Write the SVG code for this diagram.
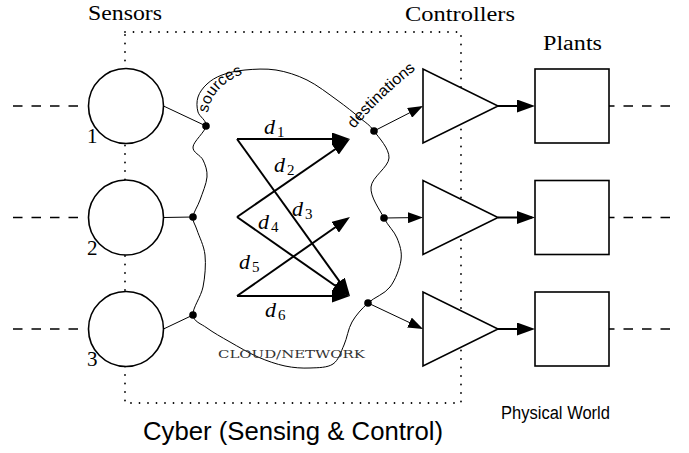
<svg xmlns="http://www.w3.org/2000/svg" width="689" height="453" viewBox="0 0 689 453">
<style>
.serif{font-family:"Liberation Serif","Times New Roman",serif;fill:#000}
.sans{font-family:"Liberation Sans",Arial,sans-serif;fill:#000}
.node{fill:#fff;stroke:#000;stroke-width:1.6}
.dash{stroke:#000;stroke-width:1.7;stroke-dasharray:9.5 9;fill:none}
.thin{stroke:#000;stroke-width:1;fill:none}
.thick{stroke:#000;stroke-width:2;fill:none}
.dot{fill:#000}
.math{font-family:"Liberation Serif","Times New Roman",serif;font-style:italic;font-size:22px}
.sub{font-family:"Liberation Serif","Times New Roman",serif;font-size:15px}
</style>
<defs>
<marker id="ahThin" markerUnits="userSpaceOnUse" viewBox="0 0 15 11" refX="13" refY="5.5" markerWidth="15" markerHeight="11" orient="auto"><path d="M0,0 L15,5.5 L0,11 Z" fill="#000"/></marker>
<marker id="ahThick" markerUnits="userSpaceOnUse" viewBox="0 0 18 13" refX="15" refY="6.5" markerWidth="18" markerHeight="13" orient="auto"><path d="M0,0 L18,6.5 L0,13 Z" fill="#000"/></marker>
</defs>

<g id="cyber-boundary">
<rect x="125" y="32" width="336" height="371" fill="none" stroke="#000" stroke-width="1.8" stroke-dasharray="0 8.5" stroke-linecap="round"/>
</g>

<g id="connectors">
<line class="dash" x1="13" y1="106" x2="80" y2="106"/>
<line class="dash" x1="13" y1="217.5" x2="80" y2="217.5"/>
<line class="dash" x1="13" y1="329" x2="80" y2="329"/>
<line class="dash" x1="605" y1="106" x2="672" y2="106"/>
<line class="dash" x1="605" y1="217.5" x2="672" y2="217.5"/>
<line class="dash" x1="605" y1="329" x2="672" y2="329"/>
<line class="thin" x1="163.5" y1="106" x2="206" y2="126"/>
<line class="thin" x1="163.5" y1="217.5" x2="193" y2="217"/>
<line class="thin" x1="163.5" y1="329" x2="193" y2="315"/>
<line class="thin" x1="374" y1="131" x2="421.2" y2="106.9" marker-end="url(#ahThin)"/>
<line class="thin" x1="384" y1="218" x2="421" y2="217.5" marker-end="url(#ahThin)"/>
<line class="thin" x1="368" y1="303" x2="421.2" y2="328.1" marker-end="url(#ahThin)"/>
<line class="thick" x1="498" y1="106" x2="532" y2="106" marker-end="url(#ahThick)"/>
<line class="thick" x1="498" y1="217.5" x2="532" y2="217.5" marker-end="url(#ahThick)"/>
<line class="thick" x1="498" y1="329" x2="532" y2="329" marker-end="url(#ahThick)"/>
<line class="thick" x1="237" y1="139" x2="347" y2="139" marker-end="url(#ahThick)"/>
<line class="thick" x1="237" y1="217" x2="347.5" y2="140.7" marker-end="url(#ahThick)"/>
<line class="thick" x1="237" y1="139" x2="348.25" y2="293.6" marker-end="url(#ahThick)"/>
<line class="thick" x1="237" y1="217" x2="347.5" y2="294.3" marker-end="url(#ahThick)"/>
<line class="thick" x1="237" y1="296" x2="347.5" y2="218.7" marker-end="url(#ahThick)"/>
<line class="thick" x1="237" y1="296" x2="347" y2="296" marker-end="url(#ahThick)"/>
<text class="math" x="264" y="134">d</text><text class="sub" x="277" y="137">1</text>
<text class="math" x="274" y="172">d</text><text class="sub" x="287" y="175">2</text>
<text class="math" x="292" y="216">d</text><text class="sub" x="305" y="219">3</text>
<text class="math" x="258" y="229">d</text><text class="sub" x="271" y="232">4</text>
<text class="math" x="239" y="269">d</text><text class="sub" x="252" y="272">5</text>
<text class="math" x="265" y="317">d</text><text class="sub" x="278" y="320">6</text>
</g>

<g id="network">
<path class="thin" d="M206,126 C206.83,120.17 199.33,116.83 198,112 C196.67,107.17 196.5,101.67 198,97 C199.5,92.33 203,87.67 207,84 C211,80.33 215.670,77.33 222,75 C228.33,72.67 236,70.83 245,70 C254,69.17 265.67,68.33 276,70 C286.33,71.67 296.83,75 307,80 C317.17,85 328.17,93.67 337,100 C345.83,106.33 353.83,112.83 360,118 C366.17,123.17 369.17,124.33 374,131 C378.83,137.67 389.5,148.67 389,158 C388.5,167.33 371.83,177 371,187 C370.17,197 379.67,209.5 384,218 C388.33,226.5 394.17,231 397,238 C399.83,245 402.17,251.83 401,260 C399.83,268.17 395.5,279.83 390,287 C384.5,294.17 374.33,297.17 368,303 C361.67,308.83 356,315 352,322 C348,329 347.17,338 344,345 C340.83,352 338.67,360.17 333,364 C327.33,367.83 318,367.67 310,368 C302,368.33 293.67,367.83 285,366 C276.33,364.17 267.17,361 258,357 C248.83,353 238.5,346.83 230,342 C221.5,337.17 213.17,332.5 207,328 C200.83,323.5 193.67,321.83 193,315 C192.33,308.17 201,297 203,287 C205,277 206,264.5 205,255 C204,245.5 199,236.33 197,230 C195,223.67 192.5,222 193,217 C193.5,212 197.67,206.67 200,200 C202.33,193.33 206.5,183.67 207,177 C207.5,170.33 205.33,165 203,160 C200.67,155 192.5,152.67 193,147 C193.5,141.33 205.17,131.83 206,126 Z"/>
<circle class="dot" cx="206" cy="126" r="3.8"/>
<circle class="dot" cx="193" cy="217" r="3.8"/>
<circle class="dot" cx="193" cy="315" r="3.8"/>
<circle class="dot" cx="374" cy="131" r="3.8"/>
<circle class="dot" cx="384" cy="218" r="3.8"/>
<circle class="dot" cx="368" cy="303" r="3.8"/>
<path id="srcPath" d="M208,113 C210,95 225,78 250,72" fill="none"/>
<path id="dstPath" d="M354,129 Q385,92 426,62" fill="none"/>
<text class="sans" font-size="15.5"><textPath href="#srcPath" textLength="55" lengthAdjust="spacingAndGlyphs">sources</textPath></text>
<text class="sans" font-size="15.5"><textPath href="#dstPath" textLength="86" lengthAdjust="spacingAndGlyphs">destinations</textPath></text>
<text x="218" y="358" font-family="'DejaVu Serif','Liberation Serif',serif" font-size="11.5" fill="#333" textLength="147" lengthAdjust="spacingAndGlyphs">CLOUD/NETWORK</text>
</g>

<g id="sensor-1"><circle class="node" cx="126" cy="106" r="37.5"/><text class="serif" x="87" y="143" font-size="21">1</text></g>
<g id="sensor-2"><circle class="node" cx="126" cy="217.5" r="37.5"/><text class="serif" x="87" y="255" font-size="21">2</text></g>
<g id="sensor-3"><circle class="node" cx="126" cy="329" r="37.5"/><text class="serif" x="87" y="366" font-size="21">3</text></g>

<g id="controller-1"><polygon class="node" points="423,69 423,143 498,106"/></g>
<g id="controller-2"><polygon class="node" points="423,180.5 423,254.5 498,217.5"/></g>
<g id="controller-3"><polygon class="node" points="423,292 423,366 498,329"/></g>

<g id="plant-1"><rect class="node" x="535" y="69" width="74" height="74"/></g>
<g id="plant-2"><rect class="node" x="535" y="180.5" width="74" height="74"/></g>
<g id="plant-3"><rect class="node" x="535" y="292" width="74" height="74"/></g>

<g id="labels">
<text class="serif" x="88" y="20" font-size="21" textLength="74" lengthAdjust="spacingAndGlyphs">Sensors</text>
<text class="serif" x="405" y="21" font-size="21" textLength="110" lengthAdjust="spacingAndGlyphs">Controllers</text>
<text class="serif" x="543" y="50" font-size="20" textLength="59" lengthAdjust="spacingAndGlyphs">Plants</text>
<text class="sans" x="143" y="440" font-size="25" textLength="300" lengthAdjust="spacingAndGlyphs">Cyber (Sensing &amp; Control)</text>
<text class="sans" x="501" y="419" font-size="18" textLength="109" lengthAdjust="spacingAndGlyphs">Physical World</text>
</g>
</svg>
